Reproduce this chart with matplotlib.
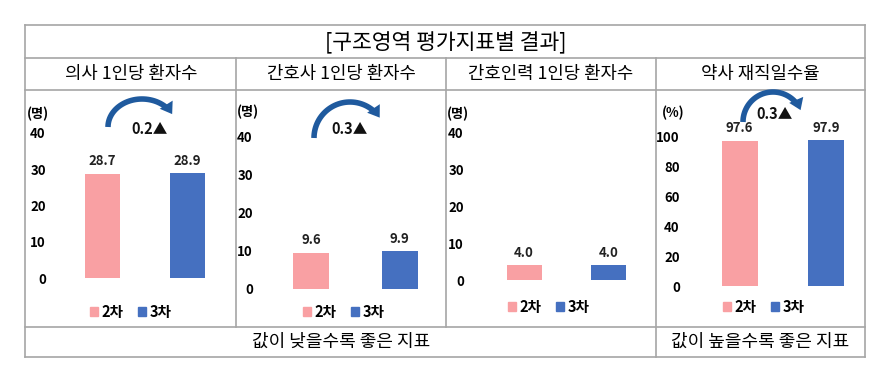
import matplotlib
matplotlib.use("Agg")
import numpy as np
import matplotlib.pyplot as plt
from matplotlib.patches import Patch, FancyArrowPatch
from matplotlib.lines import Line2D

plt.rcParams['font.family'] = ['Noto Sans CJK KR', 'DejaVu Sans']

# data
title = "[구조영역 평가지표별 결과]"
panel_titles = ["의사 1인당 환자수", "간호사 1인당 환자수", "간호인력 1인당 환자수", "약사 재직일수율"]
series = ["2차", "3차"]
vals_doctor = [28.7, 28.9]
vals_nurse = [9.6, 9.9]
vals_nursing = [4.0, 4.0]
vals_pharm = [97.6, 97.9]
units = ["(명)", "(명)", "(명)", "(%)"]
yticks_small = [0, 10, 20, 30, 40]
yticks_pharm = [0, 20, 40, 60, 80, 100]
changes = ["0.2▲", "0.3▲", None, "0.3▲"]
footer_low = "값이 낮을수록 좋은 지표"
footer_high = "값이 높을수록 좋은 지표"

colors = ["#F9A0A3", "#4570C0"]
grid_c = "#A6A6A6"
arrow_c = "#1F5A9E"

W, H = 889, 373
fig = plt.figure(figsize=(W / 100, H / 100), dpi=100)
fig.patch.set_facecolor("white")


def px(x, y):
    return (x / W, 1 - y / H)


def hline(x0, x1, y):
    a, b = px(x0, y), px(x1, y)
    fig.add_artist(Line2D([a[0], b[0]], [a[1], b[1]], color=grid_c, lw=1.2, transform=fig.transFigure))


def vline(x, y0, y1):
    a, b = px(x, y0), px(x, y1)
    fig.add_artist(Line2D([a[0], b[0]], [a[1], b[1]], color=grid_c, lw=1.2, transform=fig.transFigure))


# table frame
hline(25, 865, 25)
hline(25, 865, 58)
hline(25, 865, 90)
hline(25, 865, 327)
hline(25, 865, 357)
vline(25, 25, 357)
vline(865, 25, 357)
vline(236, 58, 327)
vline(446, 58, 327)
vline(656, 58, 357)

fig.text(*px(446, 42), title, ha="center", va="center", fontsize=15.5)
head_x = [131, 341, 551, 760]
for hx, t in zip(head_x, panel_titles):
    fig.text(*px(hx, 74), t, ha="center", va="center", fontsize=12.8)
fig.text(*px(341, 342), footer_low, ha="center", va="center", fontsize=13)
fig.text(*px(760, 342), footer_high, ha="center", va="center", fontsize=13)

# panel layout (pixels)
panels = [
    dict(vals=vals_doctor, ticks=yticks_small, lab_r=46, right=228, c0=102, c1=187, bw=35, y0=278, yt=133, ymax=40,
         unit_xy=(27, 114), leg=(131, 312)),
    dict(vals=vals_nurse, ticks=yticks_small, lab_r=253, right=440, c0=311, c1=399.5, bw=36, y0=289, yt=137, ymax=40,
         unit_xy=(237, 112), leg=(344, 312)),
    dict(vals=vals_nursing, ticks=yticks_small, lab_r=464, right=650, c0=524, c1=608.5, bw=35, y0=280, yt=133, ymax=40,
         unit_xy=(447, 114), leg=(549, 307)),
    dict(vals=vals_pharm, ticks=yticks_pharm, lab_r=680, right=860, c0=739.5, c1=826, bw=36, y0=286, yt=137, ymax=100,
         unit_xy=(662, 113), leg=(764, 307)),
]

for i, p in enumerate(panels):
    L = p["lab_r"] + 4
    R = p["right"]
    d = p["c1"] - p["c0"]
    ax = fig.add_axes([L / W, 1 - p["y0"] / H, (R - L) / W, (p["y0"] - p["yt"]) / H])
    ax.set_xlim((L - p["c0"]) / d, (R - p["c0"]) / d)
    ax.set_ylim(0, p["ymax"])
    bars = ax.bar([0, 1], p["vals"], width=p["bw"] / d, color=colors)
    for b, v in zip(bars, p["vals"]):
        ax.annotate(f"{v:.1f}", (b.get_x() + b.get_width() / 2, v), xytext=(0, 4), textcoords="offset points",
                    ha="center", va="bottom", fontsize=9.5, fontweight="bold", color="#222222")
    for s in ax.spines.values():
        s.set_visible(False)
    ax.set_xticks([])
    ax.set_yticks(p["ticks"])
    ax.tick_params(axis="y", length=0, pad=3, labelsize=9.5)
    for t in ax.get_yticklabels():
        t.set_fontweight("bold")
    ax.patch.set_alpha(0)
    fig.text(*px(*p["unit_xy"]), units[i], ha="left", va="center", fontsize=9.5, fontweight="bold")
    handles = [Patch(color=c, label=s) for c, s in zip(colors, series)]
    ax.legend(handles=handles, loc="center", bbox_to_anchor=px(*p["leg"]), bbox_transform=fig.transFigure,
              ncol=2, frameon=False, handlelength=0.55, handleheight=0.55, handletextpad=0.25, columnspacing=1.0,
              prop=dict(size=10.5, weight="bold"))

# change arrows: elliptical arc (center px, rx, ry, end angle), label position
arrows = [((142, 127), 34, 28, 22, (150, 129)),
          ((350, 138), 36, 36, 30, (350, 129)),
          None,
          ((773, 122), 30, 30, 18, (775, 114))]


def arc_pt(cx, cy, rx, ry, deg):
    t = np.radians(deg)
    return px(cx + rx * np.cos(t), cy - ry * np.sin(t))


for a, ch in zip(arrows, changes):
    if a is None:
        continue
    (cx, cy), rx, ry, ang, tp = a
    th = np.linspace(180, ang + 18, 40)
    pts = np.array([arc_pt(cx, cy, rx, ry, t) for t in th])
    fig.add_artist(Line2D(pts[:, 0], pts[:, 1], color=arrow_c, lw=4, solid_capstyle="butt",
                          transform=fig.transFigure))
    head = FancyArrowPatch(arc_pt(cx, cy, rx, ry, ang + 22), arc_pt(cx, cy, rx, ry, ang),
                           transform=fig.transFigure, connectionstyle="arc3,rad=-0.1",
                           arrowstyle="simple,head_length=8,head_width=11,tail_width=4", color=arrow_c, lw=0)
    fig.add_artist(head)
    fig.text(*px(*tp), ch, ha="center", va="center", fontsize=10.5, fontweight="bold", color="#111111")

fig.savefig("out.png", dpi=100)
